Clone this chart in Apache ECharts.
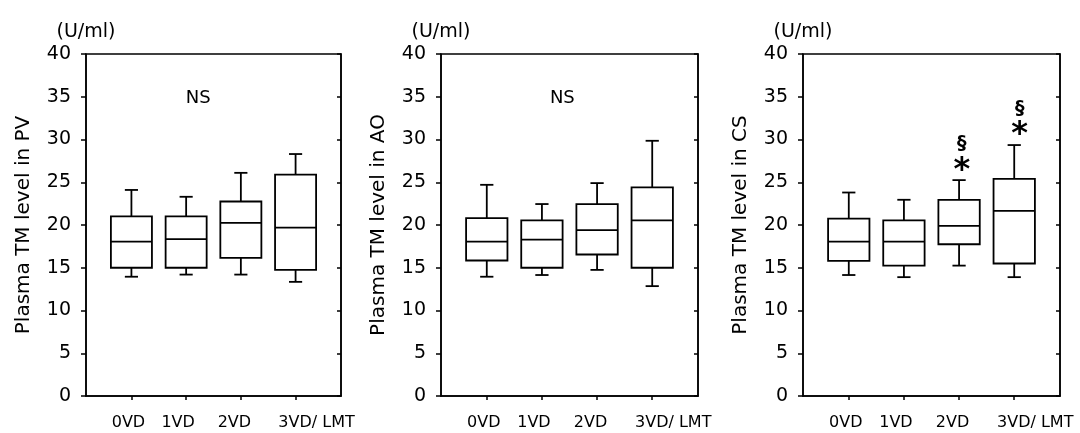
<!DOCTYPE html>
<html>
<head>
<meta charset="utf-8">
<script src="https://cdn.jsdelivr.net/npm/echarts@6/dist/echarts.min.js"></script>
<style>
html,body{margin:0;padding:0;background:#fff;}
#chart{width:1080px;height:433px;}
</style>
</head>
<body>
<div id="chart"></div>
<script>
// ---- data ----
const categories = ['0VD', '1VD', '2VD', '3VD/ LMT'];
const yTicks = [0, 5, 10, 15, 20, 25, 30, 35, 40];
const unitLabel = '(U/ml)';
const panelTitles = ['Plasma TM level in PV', 'Plasma TM level in AO', 'Plasma TM level in CS'];
// rows: [lower whisker, Q1, median, Q3, upper whisker]
const pvStats = [
  [13.95, 15.0, 18.05, 21.0, 24.1],
  [14.2, 15.0, 18.35, 21.0, 23.3],
  [14.2, 16.15, 20.25, 22.75, 26.1],
  [13.35, 14.75, 19.7, 25.9, 28.3]
];
const aoStats = [
  [13.95, 15.85, 18.05, 20.8, 24.7],
  [14.15, 15.0, 18.3, 20.55, 22.45],
  [14.75, 16.55, 19.4, 22.45, 24.9],
  [12.85, 15.0, 20.55, 24.4, 29.85]
];
const csStats = [
  [14.15, 15.8, 18.05, 20.75, 23.8],
  [13.9, 15.25, 18.05, 20.55, 22.95],
  [15.25, 17.75, 19.9, 22.95, 25.25],
  [13.9, 15.5, 21.65, 25.4, 29.35]
];
// annotations: [x (category index), y value, text]
const pvNotes = [[1.22, 34.85, 'NS']];
const aoNotes = [[1.37, 34.85, 'NS']];
const csNotes = [[2.05, 29.5, '§'], [2.05, 27.1, '*'], [3.1, 33.6, '§'], [3.1, 31.3, '*']];

// ---- chart ----
const FONT = 'DejaVu Sans';
const labelStyleKeys = ['c0', 'c1', 'c2', 'c3'];
const labelRich = {
  c0: { padding: [0, 6, 0, 0], fontSize: 16, fontFamily: FONT, color: '#000' },
  c1: { padding: [0, 16, 0, 0], fontSize: 16, fontFamily: FONT, color: '#000' },
  c2: { padding: [0, 13, 0, 0], fontSize: 16, fontFamily: FONT, color: '#000' },
  c3: { padding: [0, 0, 0, 42], fontSize: 16, fontFamily: FONT, color: '#000' }
};
const panels = [
  { stats: pvStats, notes: pvNotes, left: 86, width: 255 },
  { stats: aoStats, notes: aoNotes, left: 441, width: 257 },
  { stats: csStats, notes: csNotes, left: 803, width: 257 }
];

const grids = [], xAxes = [], yAxes = [], series = [];
panels.forEach((p, i) => {
  grids.push({ left: p.left, width: p.width, top: 54, height: 342, show: true,
    borderColor: '#000', borderWidth: 1.5, backgroundColor: 'transparent' });
  xAxes.push({
    type: 'value', gridIndex: i, min: -0.83, max: 3.83,
    axisLine: { show: true, onZero: false, lineStyle: { color: '#000', width: 1.5 } },
    axisTick: { show: true, length: 4, customValues: [0, 1, 2, 3], lineStyle: { color: '#000', width: 1.5 } },
    axisLabel: { show: true, customValues: [0, 1, 2, 3], margin: 19,
      showMinLabel: true, showMaxLabel: true, hideOverlap: false,
      formatter: v => { const k = Math.round(v); return '{' + labelStyleKeys[k] + '|' + categories[k] + '}'; },
      rich: labelRich,
      color: '#000', fontSize: 16, fontFamily: FONT },
    splitLine: { show: false }
  });
  yAxes.push({
    type: 'value', gridIndex: i, position: 'left', min: 0, max: 40, interval: 5,
    name: panelTitles[i], nameLocation: 'middle', nameGap: 52,
    nameTextStyle: { color: '#000', fontSize: 20, fontFamily: FONT },
    axisLine: { show: true, onZero: false, lineStyle: { color: '#000', width: 1.5 } },
    axisTick: { show: true, length: 5, lineStyle: { color: '#000', width: 1.5 } },
    axisLabel: { color: '#000', fontSize: 19, fontFamily: FONT, margin: 15 },
    splitLine: { show: false }
  });
  yAxes.push({
    type: 'value', gridIndex: i, position: 'right', min: 0, max: 40, interval: 5,
    axisLine: { show: true, onZero: false, lineStyle: { color: '#000', width: 1.5 } },
    axisTick: { show: true, inside: true, length: 4, lineStyle: { color: '#000', width: 1.5 } },
    axisLabel: { show: false },
    splitLine: { show: false }
  });
  yAxes.push({
    type: 'value', gridIndex: i, position: 'left', offset: 0, min: 0, max: 40,
    name: unitLabel, nameLocation: 'end', nameGap: 12,
    nameTextStyle: { color: '#000', fontSize: 19, fontFamily: FONT, align: 'center' },
    axisLine: { show: false, onZero: false }, axisTick: { show: false }, axisLabel: { show: false },
    splitLine: { show: false }
  });
  const yIdx = i * 3;
  series.push({
    type: 'custom', xAxisIndex: i, yAxisIndex: yIdx,
    data: p.stats.map((r, k) => [k, r[0], r[1], r[2], r[3], r[4]]),
    encode: { x: 0, y: [1, 2, 3, 4, 5] },
    renderItem: (params, api) => {
      const x = api.value(0);
      const band = api.size([1, 0])[0];
      const hw = band * 0.375;
      const cw = band * 0.12;
      const pLo = api.coord([x, api.value(1)]);
      const pQ1 = api.coord([x, api.value(2)]);
      const pMd = api.coord([x, api.value(3)]);
      const pQ3 = api.coord([x, api.value(4)]);
      const pHi = api.coord([x, api.value(5)]);
      const cx = pMd[0];
      const ls = { stroke: '#000', lineWidth: 1.8, fill: null };
      return {
        type: 'group',
        children: [
          { type: 'line', shape: { x1: cx, y1: pQ3[1], x2: cx, y2: pHi[1] }, style: ls },
          { type: 'line', shape: { x1: cx - cw, y1: pHi[1], x2: cx + cw, y2: pHi[1] }, style: ls },
          { type: 'line', shape: { x1: cx, y1: pQ1[1], x2: cx, y2: pLo[1] }, style: ls },
          { type: 'line', shape: { x1: cx - cw, y1: pLo[1], x2: cx + cw, y2: pLo[1] }, style: ls },
          { type: 'rect', shape: { x: cx - hw, y: pQ3[1], width: hw * 2, height: pQ1[1] - pQ3[1] },
            style: { stroke: '#000', lineWidth: 1.8, fill: '#fff' } },
          { type: 'line', shape: { x1: cx - hw, y1: pMd[1], x2: cx + hw, y2: pMd[1] }, style: ls }
        ]
      };
    },
    silent: true, animation: false
  });
  series.push({
    type: 'custom', xAxisIndex: i, yAxisIndex: yIdx,
    data: p.notes,
    encode: { x: 0, y: 1 },
    renderItem: (params, api) => {
      const pt = api.coord([api.value(0), api.value(1)]);
      const txt = p.notes[params.dataIndex][2];
      const isStar = txt === '*';
      return {
        type: 'text',
        x: pt[0], y: pt[1] + (isStar ? 6 : 0),
        style: {
          text: txt,
          fill: '#000',
          font: (txt === 'NS' ? 'normal 18px ' : (isStar ? 'bold 32px ' : 'bold 19px ')) + FONT,
          textAlign: 'center',
          textVerticalAlign: 'middle'
        }
      };
    },
    silent: true, animation: false
  });
});

const chart = echarts.init(document.getElementById('chart'), null, { renderer: 'canvas' });
chart.setOption({
  animation: false,
  backgroundColor: '#fff',
  textStyle: { fontFamily: FONT },
  grid: grids, xAxis: xAxes, yAxis: yAxes, series: series
});
</script>
</body>
</html>
